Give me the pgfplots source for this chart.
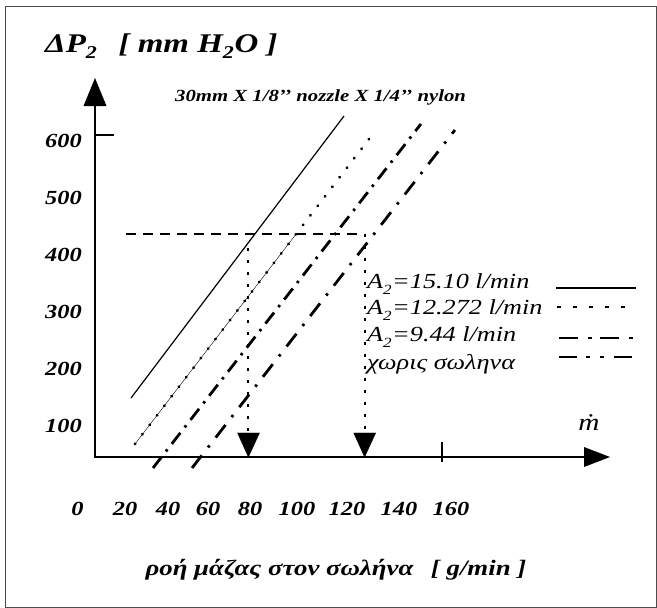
\documentclass[border=0pt]{standalone}
\usepackage{fontspec}
\setmainfont{Liberation Serif}
\newfontfamily\wf[FakeStretch=1.22]{Liberation Serif}
\usepackage{pgfplots}
\pgfplotsset{compat=1.18}
\newcommand{\fs}[1]{\fontsize{#1}{#1}\selectfont}
\newcommand{\yl}[2]{\node[anchor=base east, inner sep=0pt] at (axis cs:82,#2) {\wf\fs{20}\bfseries\itshape #1};}
\newcommand{\xl}[2]{\node[anchor=base, inner sep=0pt] at (axis cs:#2,515) {\wf\fs{20}\bfseries\itshape #1};}
\newcommand{\al}[2]{\node[anchor=base west, inner sep=0pt] at (axis cs:367,#2) {\wf\fs{21.5}\itshape A\raisebox{-0.3em}{\fs{14}2}\kern0.02em=#1 l/min};}
\begin{document}
\begin{tikzpicture}
% ---------- data axis: x = mass flow [g/min], y = Delta P2 [mm H2O] ----------
\begin{axis}[scale only axis, width=657pt, height=608pt,
  xmin=-33.333, xmax=251.082, ymin=-215.517, ymax=832.759,
  hide axis, clip=false]
% A2 = 15.10 l/min
\addplot[black, line width=1.2pt] coordinates {(23.4,146.6) (115.6,632.8)};
% A2 = 12.272 l/min
\addplot[black, line width=0.4pt] coordinates {(25.1,67.2) (95,430)};
\addplot[black, line width=2.8pt, line cap=round, dash pattern=on 0.5pt off 11.5pt] coordinates {(25.1,67.2) (129.4,608.6)};
% A2 = 9.44 l/min
\addplot[black, line width=2.8pt, dash pattern=on 14pt off 7pt on 2.5pt off 7pt] coordinates {(32.9,25.9) (148.9,619.0)};
% no tube
\addplot[black, line width=2.8pt, dash pattern=on 16pt off 10pt on 2.5pt off 10pt] coordinates {(49.8,25.9) (163.6,608.6)};
% guide lines
\addplot[black, line width=2pt, dash pattern=on 10pt off 7pt] coordinates {(21.2,429.3) (124.2,429.3)};
\addplot[black, line width=2pt, dash pattern=on 3pt off 9pt] coordinates {(74.0,405.2) (74.0,86.2)};
\addplot[black, line width=2pt, dash pattern=on 3pt off 9pt] coordinates {(124.5,429.3) (124.5,86.2)};
\addplot[black, fill=black] coordinates {(69.5,86.2) (79.0,86.2) (74.2,44.8)} -- cycle;
\addplot[black, fill=black] coordinates {(119.8,86.2) (129.3,86.2) (124.5,44.8)} -- cycle;
\end{axis}
% ---------- layout axis in pixel units ----------
\begin{axis}[scale only axis, width=657pt, height=608pt,
  xmin=0, xmax=657, ymin=0, ymax=608, y dir=reverse,
  hide axis, clip=false]
\path (axis cs:0,0) rectangle (axis cs:657,608);
\draw[line width=1pt, black!70] (axis cs:5,6) rectangle (axis cs:656,607);
% axes
\draw[line width=2pt] (axis cs:95,458) -- (axis cs:95,100);
\fill (axis cs:95,78) -- (axis cs:83.5,106) -- (axis cs:106.5,106) -- cycle;
\draw[line width=2pt] (axis cs:94,457) -- (axis cs:590,457);
\fill (axis cs:610,457) -- (axis cs:584,447) -- (axis cs:584,467) -- cycle;
\draw[line width=2pt] (axis cs:95,135) -- (axis cs:114,135);
\draw[line width=2pt] (axis cs:442,442) -- (axis cs:442,462);
% title
\node[anchor=base west, inner sep=0pt] at (axis cs:45,52)
  {\wf\fs{27}\bfseries\itshape ΔP\raisebox{-0.25em}{\fs{18}2}\hspace{0.5em} [ mm H\raisebox{-0.25em}{\fs{18}2}\kern0.02em O ]};
\node[anchor=base west, inner sep=0pt] at (axis cs:175,101)
  {\wf\fs{17}\bfseries\itshape 30mm X 1/8’’ nozzle X 1/4’’ nylon};
% y tick labels
\yl{600}{147}\yl{500}{204}\yl{400}{261}\yl{300}{318}\yl{200}{375}\yl{100}{432}
% x tick labels
\xl{0}{77.5}\xl{20}{125}\xl{40}{168}\xl{60}{208}\xl{80}{250}
\xl{100}{297}\xl{120}{347}\xl{140}{399}\xl{160}{451}
\node[anchor=base, inner sep=0pt] at (axis cs:589,430) {\wf\fs{24}\itshape \.m};
\node[anchor=base, inner sep=0pt] at (axis cs:336,575)
  {\wf\fs{22}\bfseries\itshape ροή μάζας στον σωλήνα\hspace{0.8em}[ g/min ]};
% legend
\al{15.10}{288}\al{12.272}{314}\al{9.44}{341}
\node[anchor=base west, inner sep=0pt] at (axis cs:367,369) {\wf\fs{21.5}\itshape χωρις σωληνα};
\draw[line width=2pt] (axis cs:556,288) -- (axis cs:636,288);
\draw[line width=2pt, dash pattern=on 4pt off 12pt] (axis cs:557,307) -- (axis cs:630,307);
\draw[line width=2pt, dash pattern=on 19pt off 10pt on 4pt off 8pt] (axis cs:559,338) -- (axis cs:636,338);
\draw[line width=2pt, dash pattern=on 18pt off 9pt on 4pt off 10pt on 4pt off 10pt] (axis cs:559,357) -- (axis cs:636,357);
\end{axis}
\end{tikzpicture}
\end{document}
